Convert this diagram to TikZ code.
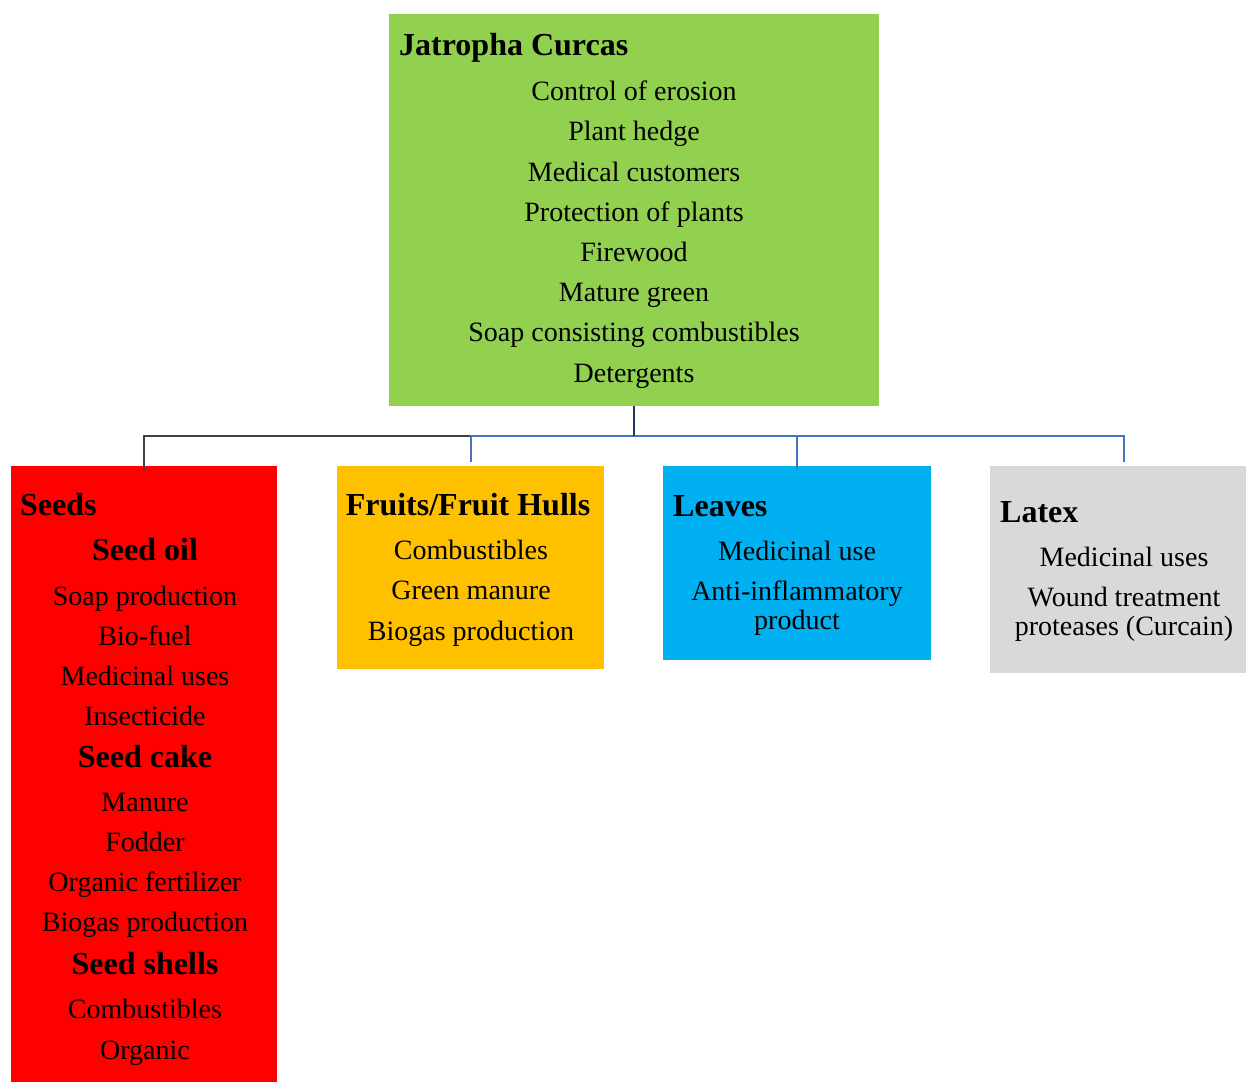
\documentclass[tikz,border=0pt]{standalone}
\usepackage{fontspec}
\setmainfont{Liberation Serif}
\usetikzlibrary{fit}
\definecolor{cgreen}{HTML}{92D050}
\definecolor{cred}{HTML}{FF0000}
\definecolor{corange}{HTML}{FFC000}
\definecolor{cblue}{HTML}{00B0F0}
\definecolor{cgray}{HTML}{D9D9D9}
\definecolor{lnblue}{HTML}{4472C4}
\definecolor{lnnavy}{HTML}{1F3864}
\definecolor{lngray}{HTML}{404040}
\tikzset{
  box/.style={inner sep=0pt, draw=none},
  itm/.style={inner sep=0pt, anchor=center, yshift=-7pt, text height=0.7em, text depth=0.22em, font=\fontsize{28}{32}\selectfont},
  ttl/.style={inner sep=0pt, anchor=west, yshift=-7pt, text height=0.7em, text depth=0.22em, font=\fontsize{32}{36}\selectfont\bfseries},
  sub/.style={inner sep=0pt, anchor=center, yshift=-7pt, text height=0.7em, text depth=0.22em, font=\fontsize{32}{36}\selectfont\bfseries},
  conn/.style={line width=1.6pt},
}
\begin{document}
\begin{tikzpicture}[x=1pt,y=-1pt]
\useasboundingbox (0,0) rectangle (1246,1082);
% boxes
\node[box, fill=cgreen, fit={(389,14)(879,406)}] (jc) {};
\node[box, fill=cred, fit={(11,466)(277,1082)}] (seeds) {};
\node[box, fill=corange, fit={(337,466)(604,669)}] (fruits) {};
\node[box, fill=cblue, fit={(663,466)(931,660)}] (leaves) {};
\node[box, fill=cgray, fit={(990,466)(1246,673)}] (latex) {};
% connectors
\coordinate (hub) at (634,436);
\coordinate (lt) at (1124,462);
\coordinate (ft) at (471,462);
\draw[conn, lngray] (hub) -| ([yshift=-4pt]seeds.north);
\draw[conn, lnblue] (hub) -| (ft);
\draw[conn, lnblue] (hub) -| ([yshift=-4pt]leaves.north);
\draw[conn, lnblue] (hub) -| (lt);
\draw[conn, lnnavy] (jc.south) -- (hub);
% green text
\node[ttl] (jct) at (399,46) {Jatropha Curcas};
\node[itm] (j1) at (634,91) {Control of erosion};
\node[itm] (j2) at (634,131) {Plant hedge};
\node[itm] (j3) at (634,172) {Medical customers};
\node[itm] (j4) at (634,212) {Protection of plants};
\node[itm] (j5) at (634,252) {Firewood};
\node[itm] (j6) at (634,292) {Mature green};
\node[itm] (j7) at (634,332) {Soap consisting combustibles};
\node[itm] (j8) at (634,373) {Detergents};
% seeds text
\node[ttl] (st) at (20,506) {Seeds};
\node[sub] (s0) at (145,551) {Seed oil};
\node[itm] (s1) at (145,596) {Soap production};
\node[itm] (s2) at (145,636) {Bio-fuel};
\node[itm] (s3) at (145,676) {Medicinal uses};
\node[itm] (s4) at (145,716) {Insecticide};
\node[sub] (s5) at (145,758) {Seed cake};
\node[itm] (s6) at (145,802) {Manure};
\node[itm] (s7) at (145,842) {Fodder};
\node[itm] (s8) at (145,882) {Organic fertilizer};
\node[itm] (s9) at (145,922) {Biogas production};
\node[sub] (s10) at (145,965) {Seed shells};
\node[itm] (s11) at (145,1009) {Combustibles};
\node[itm] (s12) at (145,1050) {Organic};
% fruits text
\node[sub] (ftt) at (468,506) {Fruits/Fruit Hulls};
\node[itm] (f1) at (471,550) {Combustibles};
\node[itm] (f2) at (471,590) {Green manure};
\node[itm] (f3) at (471,631) {Biogas production};
% leaves text
\node[ttl] (lvt) at (673,507) {Leaves};
\node[itm] (l1) at (797,551) {Medicinal use};
\node[itm] (l2) at (797,591) {Anti-inflammatory};
\node[itm] (l3) at (797,620) {product};
% latex text
\node[ttl] (ltt) at (1000,513) {Latex};
\node[itm] (x1) at (1124,557) {Medicinal uses};
\node[itm] (x2) at (1124,597) {Wound treatment};
\node[itm] (x3) at (1124,626) {proteases (Curcain)};
\end{tikzpicture}
\end{document}
